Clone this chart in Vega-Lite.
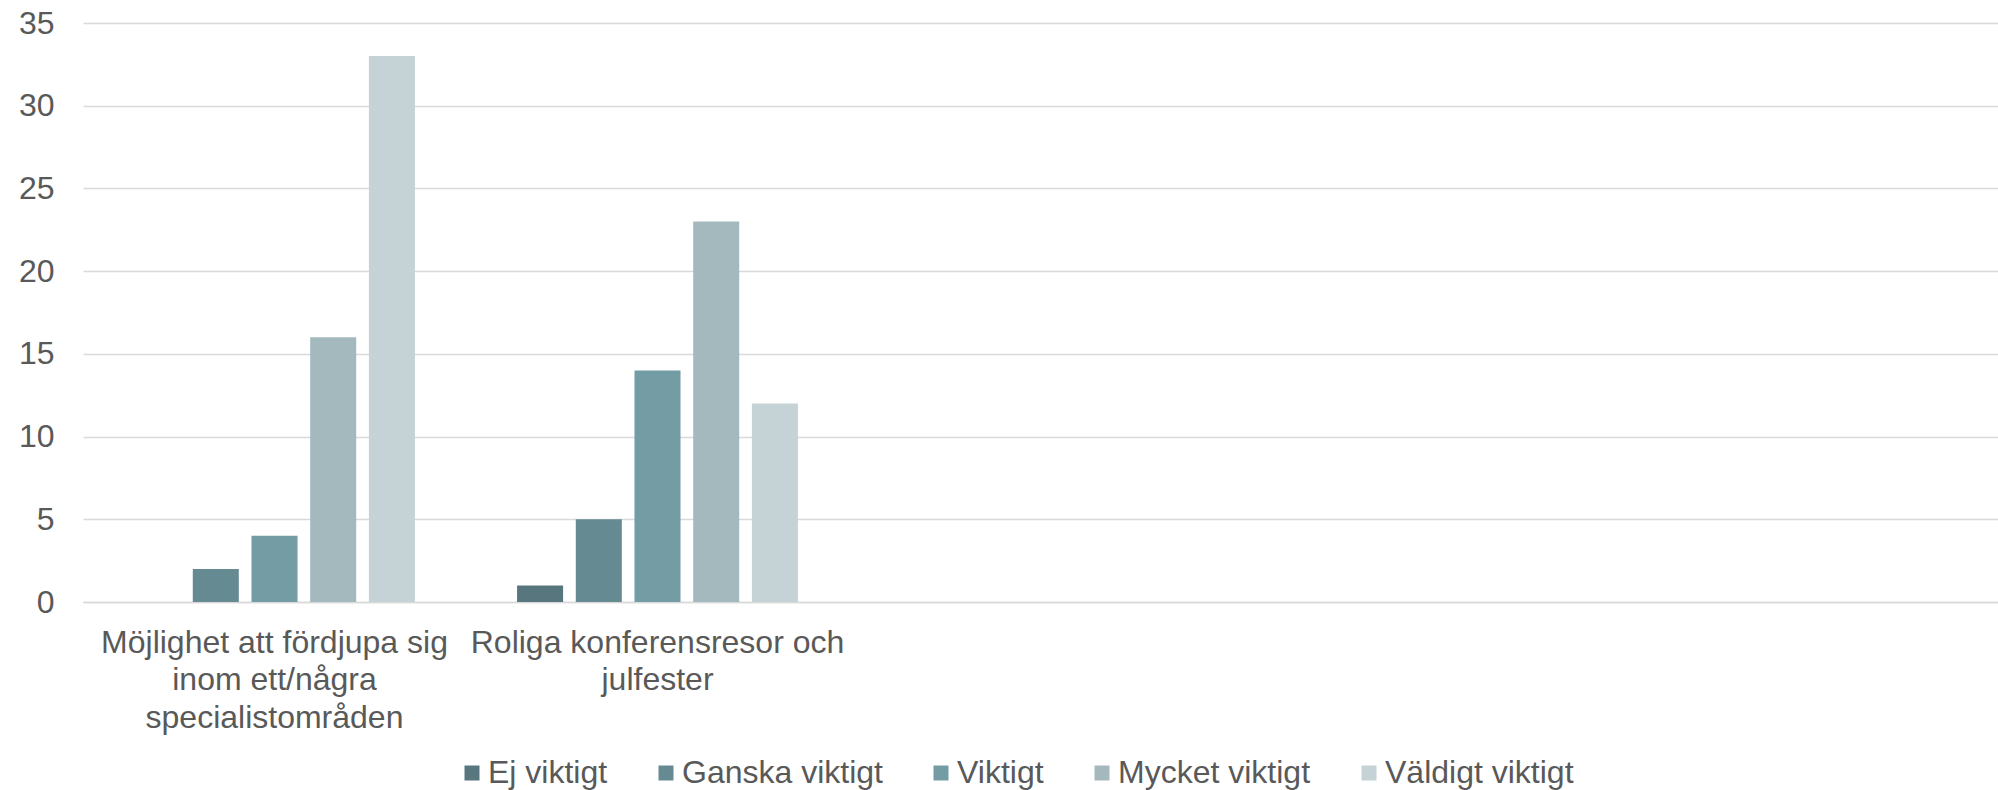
{
  "$schema": "https://vega.github.io/schema/vega-lite/v6.json",
  "width": 1915,
  "height": 579,
  "autosize": {"type": "none"},
  "padding": {"left": 83, "top": 23, "right": 0, "bottom": 188},
  "background": "white",
  "config": {
    "view": {"stroke": null},
    "font": "Liberation Sans",
    "axis": {"labelFont": "Liberation Sans", "labelColor": "#595959"},
    "legend": {"labelFont": "Liberation Sans", "labelColor": "#595959"}
  },
  "data": {
    "values": [
      {"kategori": "Möjlighet att fördjupa sig inom ett/några specialistområden", "svar": "Ej viktigt", "antal": 0},
      {"kategori": "Möjlighet att fördjupa sig inom ett/några specialistområden", "svar": "Ganska viktigt", "antal": 2},
      {"kategori": "Möjlighet att fördjupa sig inom ett/några specialistområden", "svar": "Viktigt", "antal": 4},
      {"kategori": "Möjlighet att fördjupa sig inom ett/några specialistområden", "svar": "Mycket viktigt", "antal": 16},
      {"kategori": "Möjlighet att fördjupa sig inom ett/några specialistområden", "svar": "Väldigt viktigt", "antal": 33},
      {"kategori": "Roliga konferensresor och julfester", "svar": "Ej viktigt", "antal": 1},
      {"kategori": "Roliga konferensresor och julfester", "svar": "Ganska viktigt", "antal": 5},
      {"kategori": "Roliga konferensresor och julfester", "svar": "Viktigt", "antal": 14},
      {"kategori": "Roliga konferensresor och julfester", "svar": "Mycket viktigt", "antal": 23},
      {"kategori": "Roliga konferensresor och julfester", "svar": "Väldigt viktigt", "antal": 12}
    ]
  },
  "mark": {"type": "bar"},
  "encoding": {
    "x": {
      "field": "kategori",
      "type": "nominal",
      "sort": null,
      "scale": {
        "domain": ["Möjlighet att fördjupa sig inom ett/några specialistområden", "Roliga konferensresor och julfester", " ", "  ", "   "],
        "paddingInner": 0,
        "paddingOuter": 0
      },
      "axis": {
        "title": null,
        "labelAngle": 0,
        "labelFontSize": 32,
        "labelLineHeight": 37.5,
        "labelPadding": 25,
        "labelLimit": 0,
        "ticks": false,
        "domainColor": "#d9d9d9",
        "domainWidth": 1.5,
        "labelExpr": "datum.value == 'Möjlighet att fördjupa sig inom ett/några specialistområden' ? ['Möjlighet att fördjupa sig', 'inom ett/några', 'specialistområden'] : datum.value == 'Roliga konferensresor och julfester' ? ['Roliga konferensresor och', 'julfester'] : ''"
      }
    },
    "xOffset": {
      "field": "svar",
      "type": "nominal",
      "sort": ["Ej viktigt", "Ganska viktigt", "Viktigt", "Mycket viktigt", "Väldigt viktigt"],
      "scale": {"paddingInner": 0.216, "paddingOuter": 0.87}
    },
    "y": {
      "field": "antal",
      "type": "quantitative",
      "scale": {"domain": [0, 35], "nice": false},
      "axis": {
        "title": null,
        "values": [0, 5, 10, 15, 20, 25, 30, 35],
        "labelFontSize": 32,
        "labelPadding": 29,
        "ticks": false,
        "domain": false,
        "gridColor": "#d9d9d9",
        "gridWidth": 1.5
      }
    },
    "color": {
      "field": "svar",
      "type": "nominal",
      "sort": ["Ej viktigt", "Ganska viktigt", "Viktigt", "Mycket viktigt", "Väldigt viktigt"],
      "scale": {
        "domain": ["Ej viktigt", "Ganska viktigt", "Viktigt", "Mycket viktigt", "Väldigt viktigt"],
        "range": ["#58767e", "#668a91", "#739ca5", "#a4b9be", "#c5d3d6"]
      },
      "legend": {
        "title": null,
        "orient": "none",
        "legendX": 373,
        "legendY": 734,
        "direction": "horizontal",
        "symbolType": "square",
        "symbolSize": 225,
        "symbolStrokeWidth": 0,
        "labelFontSize": 32,
        "labelLimit": 0,
        "labelOffset": 0,
        "columnPadding": 42
      }
    }
  }
}
